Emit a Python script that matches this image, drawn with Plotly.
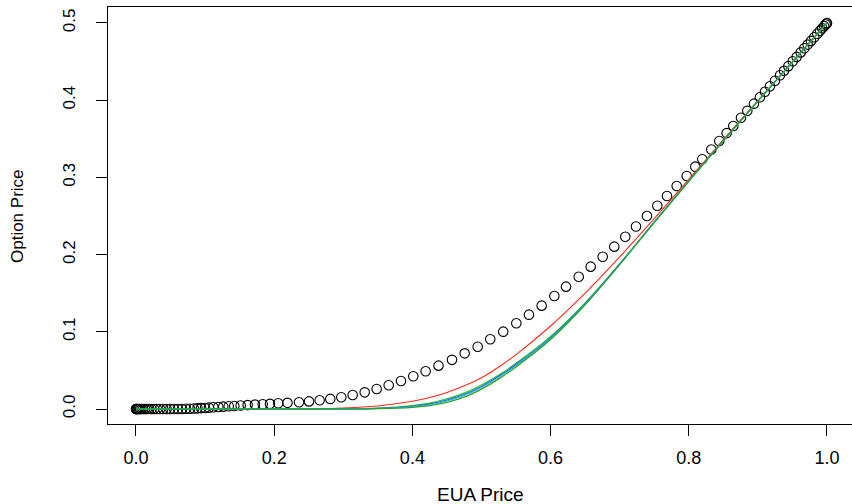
import plotly.graph_objects as go

# ---- data ----
pts_x = [0.0, 0.0003, 0.0009, 0.0017, 0.0029, 0.0043, 0.0061, 0.0081, 0.0104, 0.0130,
         0.0159, 0.0191, 0.0226, 0.0263, 0.0304, 0.0347, 0.0394, 0.0443, 0.0495, 0.0550,
         0.0608, 0.0666, 0.0724, 0.0781, 0.0839, 0.0890, 0.0941, 0.0999, 0.1056, 0.1119,
         0.1191, 0.1263, 0.1342, 0.1423, 0.1515, 0.1616, 0.1722, 0.1834, 0.1939, 0.2059,
         0.2192, 0.2359, 0.2504, 0.2658, 0.2812, 0.2971, 0.3136, 0.3310, 0.3483, 0.3657,
         0.3835, 0.4013, 0.4192, 0.4378, 0.4573, 0.4757, 0.4945, 0.5127, 0.5315, 0.5504,
         0.5687, 0.5871, 0.6054, 0.6223, 0.6407, 0.6580, 0.6754, 0.6922, 0.7081, 0.7236,
         0.7395, 0.7544, 0.7685, 0.7825, 0.7970, 0.8094, 0.8195, 0.8326, 0.8441, 0.8548,
         0.8644, 0.8755, 0.8847, 0.8943, 0.9030, 0.9103, 0.9175, 0.9247, 0.9320, 0.9378,
         0.9440, 0.9504, 0.9561, 0.9619, 0.9672, 0.9720, 0.9768, 0.9816, 0.9860, 0.9899,
         0.9932, 0.9959, 0.9980, 0.9993, 1.0]
pts_y = [0.0, 0.0, 0.0, 0.0, 0.0, 0.0, 0.0, 0.0, 0.0, 0.0,
         0.0, 0.0, 0.0, 0.0, 0.0, 0.0, 0.0, 0.0, 0.0, 0.0,
         0.0, 0.0001, 0.0003, 0.0004, 0.0006, 0.0009, 0.0012, 0.0014, 0.0018, 0.0022,
         0.0026, 0.0031, 0.0035, 0.0040, 0.0045, 0.0051, 0.0057, 0.0062, 0.0067, 0.0074,
         0.0080, 0.0088, 0.0099, 0.0113, 0.0131, 0.0153, 0.0181, 0.0216, 0.0259, 0.0307,
         0.0363, 0.0424, 0.0489, 0.0562, 0.0637, 0.0721, 0.0807, 0.0903, 0.1002, 0.1110,
         0.1222, 0.1339, 0.1464, 0.1585, 0.1714, 0.1844, 0.1973, 0.2103, 0.2232, 0.2364,
         0.2500, 0.2633, 0.2759, 0.2889, 0.3018, 0.3139, 0.3235, 0.3361, 0.3471, 0.3574,
         0.3666, 0.3773, 0.3862, 0.3955, 0.4039, 0.4110, 0.4180, 0.4251, 0.4323, 0.4380,
         0.4441, 0.4504, 0.4561, 0.4619, 0.4672, 0.4720, 0.4768, 0.4816, 0.4860, 0.4899,
         0.4932, 0.4959, 0.4980, 0.4993, 0.5]

line_x = [0, 0.1, 0.2, 0.25, 0.3, 0.35, 0.4, 0.425, 0.45, 0.475, 0.5, 0.525, 0.55,
          0.6, 0.65, 0.7, 0.75, 0.8, 0.85, 0.9, 0.95, 1.0]
red_y = [0, 0, 0.0001, 0.0003, 0.0013, 0.0040, 0.0100, 0.0148, 0.0214, 0.0300, 0.0405,
         0.0545, 0.0705, 0.1075, 0.1500, 0.1970, 0.2465, 0.2975, 0.3488, 0.3994, 0.4497, 0.5]
green_up_y = [0, 0, 0, 0, 0.0002, 0.0012, 0.0044, 0.0076, 0.0132, 0.0206, 0.0310,
              0.0440, 0.0592, 0.0940, 0.1375, 0.1882, 0.2423, 0.2953, 0.3476, 0.3988, 0.4494, 0.5]
blue_y = [0, 0, 0, 0, 0.0001, 0.0009, 0.0036, 0.0065, 0.0117, 0.0189, 0.0293,
          0.0424, 0.0576, 0.0925, 0.1366, 0.1879, 0.2420, 0.2952, 0.3476, 0.3988, 0.4494, 0.5]
cyan_y = [0, 0, 0, 0, 0.0001, 0.0007, 0.0030, 0.0056, 0.0104, 0.0174, 0.0278,
          0.0410, 0.0562, 0.0913, 0.1358, 0.1875, 0.2418, 0.2951, 0.3475, 0.3988, 0.4494, 0.5]
green_low_y = [0, 0, 0, 0, 0.0001, 0.0005, 0.0022, 0.0043, 0.0086, 0.0153, 0.0257,
               0.0390, 0.0545, 0.0900, 0.1350, 0.1870, 0.2415, 0.2950, 0.3475, 0.3988, 0.4494, 0.5]

x_ticks = [0.0, 0.2, 0.4, 0.6, 0.8, 1.0]
x_ticktext = ["0.0", "0.2", "0.4", "0.6", "0.8", "1.0"]
y_ticks = [0.0, 0.1, 0.2, 0.3, 0.4, 0.5]
y_ticktext = ["0.0", "0.1", "0.2", "0.3", "0.4", "0.5"]

FONT = "Liberation Sans, Arial, Helvetica, sans-serif"

fig = go.Figure()
fig.add_trace(go.Scatter(
    x=pts_x, y=pts_y, mode="markers",
    marker=dict(symbol="circle-open", size=9.5, color="black", line=dict(width=1.1, color="black")),
    showlegend=False, hoverinfo="skip"))

series = [
    (red_y, "#ff2a1a", 1.1),
    (green_up_y, "#22c022", 1.1),
    (blue_y, "#2050ff", 1.1),
    (cyan_y, "#20c0e8", 1.1),
    (green_low_y, "#2ea02a", 1.3),
]
for ys, col, w in series:
    fig.add_trace(go.Scatter(
        x=line_x, y=ys, mode="lines",
        line=dict(color=col, width=w, shape="spline", smoothing=0.9),
        showlegend=False, hoverinfo="skip"))

fig.update_layout(
    width=852, height=504,
    margin=dict(l=108, r=0, t=7, b=80),
    paper_bgcolor="white", plot_bgcolor="white",
    font=dict(family=FONT, color="black"),
    xaxis=dict(
        range=[-0.0405, 1.0362], tickvals=x_ticks, ticktext=x_ticktext,
        ticks="outside", ticklen=11, tickwidth=1, tickcolor="black",
        showline=True, linecolor="black", linewidth=1, mirror=True,
        showgrid=False, zeroline=False,
        tickfont=dict(size=18, family=FONT, color="black"),
        ticklabelstandoff=6,
    ),
    yaxis=dict(
        range=[-0.0194, 0.5207], tickvals=y_ticks, ticktext=y_ticktext,
        ticks="outside", ticklen=11, tickwidth=1, tickcolor="black",
        showline=True, linecolor="black", linewidth=1, mirror=False,
        showgrid=False, zeroline=False, tickangle=-90,
        tickfont=dict(size=17, family=FONT, color="black"),
        ticklabelstandoff=14,
    ),
    annotations=[
        dict(text="EUA Price", xref="paper", yref="paper", x=0.5013, y=-0.1679,
             xanchor="center", yanchor="middle", showarrow=False,
             font=dict(size=19, family=FONT, color="black")),
        dict(text="Option Price", xref="paper", yref="paper", x=-0.1223, y=0.4988,
             xanchor="center", yanchor="middle", showarrow=False, textangle=-90,
             font=dict(size=17, family=FONT, color="black")),
    ],
)

fig.write_html("out.html", config={"displayModeBar": False, "staticPlot": True},
               post_script="document.body.style.margin='0px';document.body.style.padding='0px';")
